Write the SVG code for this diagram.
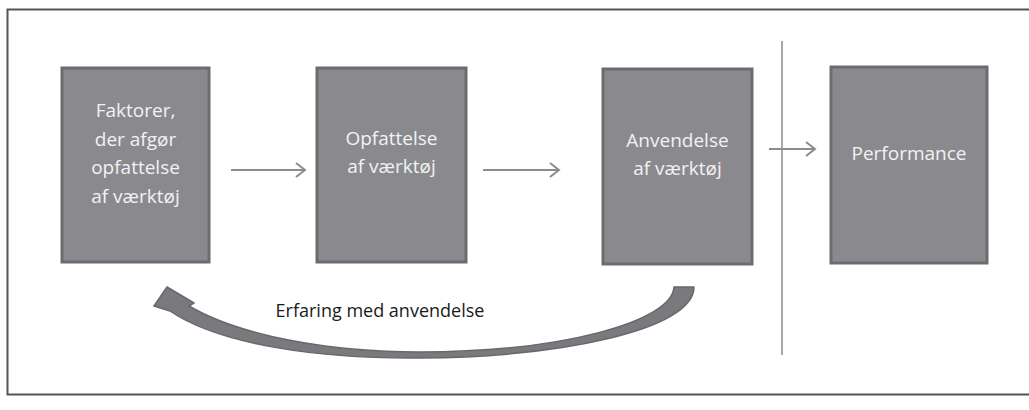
<svg xmlns="http://www.w3.org/2000/svg" width="1029" height="410" viewBox="0 0 1029 410">
<style>
.box{fill:#8a8a8e;stroke:#6c6c70;stroke-width:3}
.lbl{font-family:"Open Sans","Liberation Sans",sans-serif;font-size:19px;fill:#f2f2f2;text-anchor:middle}
.conn{stroke:#8c8c90;stroke-width:2;fill:none}
</style>
<defs>
<marker id="ah" markerUnits="userSpaceOnUse" markerWidth="20" markerHeight="20" refX="15" refY="10" orient="auto" viewBox="0 0 20 20">
<path d="M6,3 L15,10 L6,17" fill="none" stroke="#8c8c90" stroke-width="2"/>
</marker>
</defs>
<rect x="7.5" y="9.5" width="1025" height="385" fill="#ffffff" stroke="#555" stroke-width="2"/>
<g id="n1"><rect class="box" x="62" y="68" width="147" height="194"/>
<text class="lbl" x="135.5" y="117">Faktorer,</text>
<text class="lbl" x="135.5" y="146">der afgør</text>
<text class="lbl" x="135.5" y="174">opfattelse</text>
<text class="lbl" x="135.5" y="203">af værktøj</text></g>
<g id="n2"><rect class="box" x="317" y="68" width="149" height="194"/>
<text class="lbl" x="391.5" y="145">Opfattelse</text>
<text class="lbl" x="391.5" y="173">af værktøj</text></g>
<g id="n3"><rect class="box" x="603" y="69" width="149" height="195"/>
<text class="lbl" x="677.5" y="147">Anvendelse</text>
<text class="lbl" x="677.5" y="175">af værktøj</text></g>
<g id="n4"><rect class="box" x="831" y="67" width="156" height="196"/>
<text class="lbl" x="909" y="160">Performance</text></g>
<line x1="782" y1="41" x2="782" y2="355" stroke="#a8a8ac" stroke-width="2"/>
<g id="connectors">
<line class="conn" x1="231" y1="170" x2="305" y2="170" marker-end="url(#ah)"/>
<line class="conn" x1="483" y1="170" x2="559" y2="170" marker-end="url(#ah)"/>
<line class="conn" x1="769" y1="149" x2="815" y2="149" marker-end="url(#ah)"/>
<path d="M674,287 L694,287 C694,330 560,357 420,358 C320,359 220,345 170,311 L154,306 L167,287 L194,303 L189,306 C240,336 330,352 420,352 C560,352 672,322 674,287 Z" fill="#7a7a7e" stroke="#68686c" stroke-width="1.5" stroke-linejoin="round"/>
</g>
<text x="380" y="317" font-family="Open Sans,Liberation Sans,sans-serif" font-size="18" fill="#1a1a1a" text-anchor="middle">Erfaring med anvendelse</text>
</svg>
